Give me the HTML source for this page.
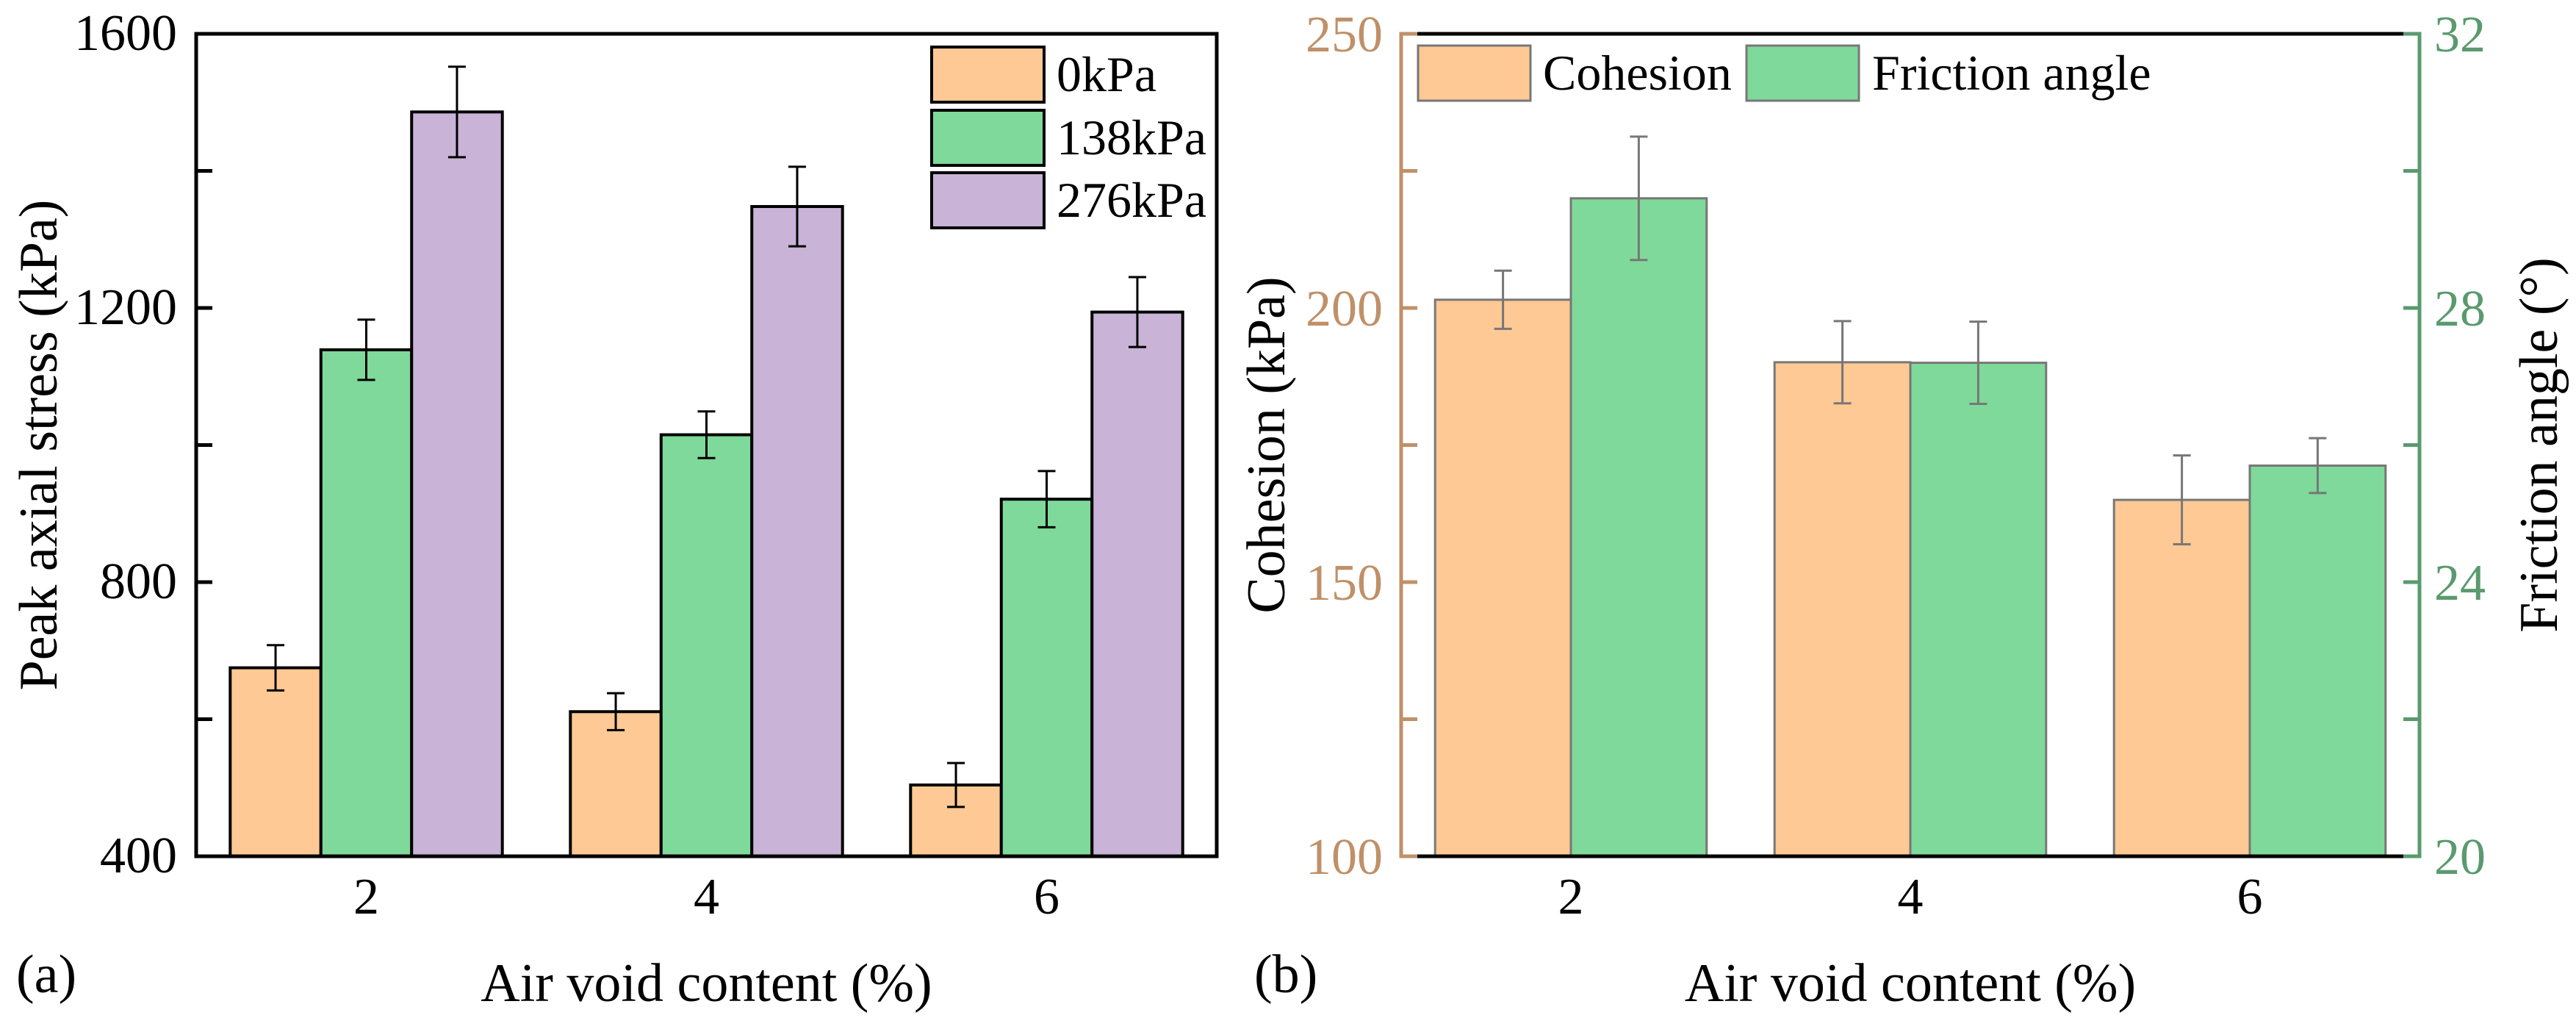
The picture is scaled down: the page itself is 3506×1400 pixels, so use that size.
<!DOCTYPE html>
<html><head><meta charset="utf-8"><style>
html,body{margin:0;padding:0;background:#fff;}
svg{display:block;}
svg text{font-family:"Liberation Serif","DejaVu Serif",serif;}
</style></head>
<body>
<svg id="chart" width="3506" height="1400" viewBox="0 0 3506 1400" xmlns="http://www.w3.org/2000/svg" font-family="Liberation Serif, serif">
<g id="pa"></g>
<g id="pb"></g>
</svg>
<script>
// Panel (a) data
const catsA = [2, 4, 6];
const seriesA = ["0kPa", "138kPa", "276kPa"];
const valsA0 = [675, 611, 504];
const valsA1 = [1139, 1015, 921];
const valsA2 = [1486, 1348, 1194];
const errA0 = [33, 27, 32];
const errA1 = [44, 34, 41];
const errA2 = [66, 58, 51];
const ticksA = [400, 800, 1200, 1600];
// Panel (b) data
const catsB = [2, 4, 6];
const cohesion = [201.5, 190.1, 165];
const cohesionErr = [5.3, 7.5, 8.1];
const friction = [29.6, 27.2, 25.7];
const frictionErr = [0.9, 0.6, 0.4];
const ticksBL = [100, 150, 200, 250];
const ticksBR = [20, 24, 28, 32];

const NS = "http://www.w3.org/2000/svg";
const FONT = '"Liberation Serif", "DejaVu Serif", serif';
function mk(parent, tag, attrs, text) {
  const e = document.createElementNS(NS, tag);
  for (const k in attrs) e.setAttribute(k, attrs[k]);
  if (text !== undefined) {
    e.textContent = text;
    e.style.fontFamily = FONT;
  }
  parent.appendChild(e);
  return e;
}
const ORANGE = "#FEC994", GREEN = "#7FD99A", PURPLE = "#C9B3D7";
const TAN = "#C09068", DGREEN = "#5A9A6E";

// ---------- Panel A ----------
(function () {
  const g = document.getElementById("pa");
  const L = 267, R = 1656, T = 46, B = 1165;
  const xS = v => L + (v - 1) / 6 * (R - L);
  const yS = v => B - (v - 400) / 1200 * (B - T);
  const step = xS(3) - xS(1);
  const bw = step * 0.8 / 3;
  const vals = [valsA0, valsA1, valsA2];
  const errs = [errA0, errA1, errA2];
  const cols = [ORANGE, GREEN, PURPLE];
  for (let s = 0; s < 3; s++) {
    for (let i = 0; i < catsA.length; i++) {
      const x0 = xS(catsA[i]) - 1.5 * bw + s * bw;
      const bar = mk(g, "rect", {x: x0, y: yS(vals[s][i]), width: bw, height: B - yS(vals[s][i]), fill: cols[s], stroke: "#000", "stroke-width": 4});
      
      
    }
  }
  for (let s = 0; s < 3; s++) {
    for (let i = 0; i < catsA.length; i++) {
      const cx = xS(catsA[i]) - bw + s * bw;
      const hi = yS(vals[s][i] + errs[s][i]), lo = yS(vals[s][i] - errs[s][i]);
      const eb = mk(g, "path", {d: `M${cx},${hi}V${lo}M${cx-12},${hi}H${cx+12}M${cx-12},${lo}H${cx+12}`, stroke: "#000", "stroke-width": 3, fill: "none"});
      
      
    }
  }
  const frame = mk(g, "rect", {x: L, y: T, width: R - L, height: B - T, fill: "none", stroke: "#000", "stroke-width": 5});
  
  
  for (let v = 400; v <= 1600; v += 200) {
    const y = yS(v);
    const tk = mk(g, "line", {x1: L, x2: L + 22, y1: y, y2: y, stroke: "#000", "stroke-width": 5});
    
    
  }
  ticksA.forEach(v => {
    const t = mk(g, "text", {x: 241, y: yS(v) + 22, "font-size": 70, "text-anchor": "end"}, String(v));
    
    
  });
  catsA.forEach(c => {
    const t = mk(g, "text", {x: xS(c), y: 1243, "font-size": 70, "text-anchor": "middle"}, String(c));
    
    
  });
  const yt = mk(g, "text", {x: 0, y: 0, "font-size": 74, "text-anchor": "middle", transform: `translate(77,${(T+B)/2}) rotate(-90)`}, "Peak axial stress (kPa)");
  
  
  const xt = mk(g, "text", {x: (L + R) / 2, y: 1362, "font-size": 74, "text-anchor": "middle"}, "Air void content (%)");
  
  
  const lab = mk(g, "text", {x: 22, y: 1350, "font-size": 74}, "(a)");
  
  
  const ly = [64, 150, 235];
  for (let s = 0; s < 3; s++) {
    const r = mk(g, "rect", {x: 1268, y: ly[s], width: 153, height: 75, fill: cols[s], stroke: "#000", "stroke-width": 4});
    
    
    const t = mk(g, "text", {x: 1438, y: ly[s] + 60, "font-size": 68}, seriesA[s]);
    
    
  }
})();

// ---------- Panel B ----------
(function () {
  const g = document.getElementById("pb");
  const L = 1907, R = 3293, T = 46, B = 1165;
  const xS = v => L + (v - 1) / 6 * (R - L);
  const yL = v => B - (v - 100) / 150 * (B - T);
  const yR = v => B - (v - 20) / 12 * (B - T);
  const step = xS(3) - xS(1);
  const bw = step * 0.4;
  for (let i = 0; i < catsB.length; i++) {
    const x0 = xS(catsB[i]) - bw;
    const b1 = mk(g, "rect", {x: x0, y: yL(cohesion[i]), width: bw, height: B - yL(cohesion[i]), fill: ORANGE, stroke: "#777", "stroke-width": 3});
    
    
    const b2 = mk(g, "rect", {x: x0 + bw, y: yR(friction[i]), width: bw, height: B - yR(friction[i]), fill: GREEN, stroke: "#777", "stroke-width": 3});
    
    
  }
  for (let i = 0; i < catsB.length; i++) {
    let cx = xS(catsB[i]) - bw / 2;
    let hi = yL(cohesion[i] + cohesionErr[i]), lo = yL(cohesion[i] - cohesionErr[i]);
    const e1 = mk(g, "path", {d: `M${cx},${hi}V${lo}M${cx-12},${hi}H${cx+12}M${cx-12},${lo}H${cx+12}`, stroke: "#777", "stroke-width": 3, fill: "none"});
    
    
    cx = xS(catsB[i]) + bw / 2;
    hi = yR(friction[i] + frictionErr[i]); lo = yR(friction[i] - frictionErr[i]);
    const e2 = mk(g, "path", {d: `M${cx},${hi}V${lo}M${cx-12},${hi}H${cx+12}M${cx-12},${lo}H${cx+12}`, stroke: "#777", "stroke-width": 3, fill: "none"});
    
    
  }
  const top = mk(g, "line", {x1: L, x2: R, y1: T, y2: T, stroke: "#000", "stroke-width": 5});
  
  
  const bot = mk(g, "line", {x1: L, x2: R, y1: B, y2: B, stroke: "#000", "stroke-width": 5});
  
  
  const la = mk(g, "path", {d: `M${L+22},${T}H${L}V${B}H${L+22}`, stroke: TAN, "stroke-width": 5, fill: "none"});
  
  
  const ra = mk(g, "path", {d: `M${R-22},${T}H${R}V${B}H${R-22}`, stroke: DGREEN, "stroke-width": 5, fill: "none"});
  
  
  for (let v = 100; v <= 250; v += 25) {
    const tk = mk(g, "line", {x1: L, x2: L + 22, y1: yL(v), y2: yL(v), stroke: TAN, "stroke-width": 5});
    
    
  }
  for (let v = 20; v <= 32; v += 2) {
    const tk = mk(g, "line", {x1: R - 22, x2: R, y1: yR(v), y2: yR(v), stroke: DGREEN, "stroke-width": 5});
    
    
  }
  ticksBL.forEach(v => {
    const t = mk(g, "text", {x: 1882, y: yL(v) + 24, "font-size": 70, "text-anchor": "end", fill: TAN}, String(v));
    
    
  });
  ticksBR.forEach(v => {
    const t = mk(g, "text", {x: 3313, y: yR(v) + 24, "font-size": 70, fill: DGREEN}, String(v));
    
    
  });
  catsB.forEach(c => {
    const t = mk(g, "text", {x: xS(c), y: 1243, "font-size": 70, "text-anchor": "middle"}, String(c));
    
    
  });
  const yt = mk(g, "text", {x: 0, y: 0, "font-size": 74, "text-anchor": "middle", transform: `translate(1748,${(T+B)/2}) rotate(-90)`}, "Cohesion (kPa)");
  
  
  const yt2 = mk(g, "text", {x: 0, y: 0, "font-size": 74, "text-anchor": "middle", transform: `translate(3480,${(T+B)/2}) rotate(-90)`}, "Friction angle (°)");
  
  
  const xt = mk(g, "text", {x: (L + R) / 2, y: 1362, "font-size": 74, "text-anchor": "middle"}, "Air void content (%)");
  
  
  const lab = mk(g, "text", {x: 1707, y: 1350, "font-size": 74}, "(b)");
  
  
  const s1 = mk(g, "rect", {x: 1930, y: 62, width: 153, height: 75, fill: ORANGE, stroke: "#777", "stroke-width": 3});
  
  
  const t1 = mk(g, "text", {x: 2100, y: 122, "font-size": 68}, "Cohesion");
  
  
  const s2 = mk(g, "rect", {x: 2377, y: 62, width: 153, height: 75, fill: GREEN, stroke: "#777", "stroke-width": 3});
  
  
  const t2 = mk(g, "text", {x: 2548, y: 122, "font-size": 68}, "Friction angle");
  
  
})();
</script>
</body></html>
